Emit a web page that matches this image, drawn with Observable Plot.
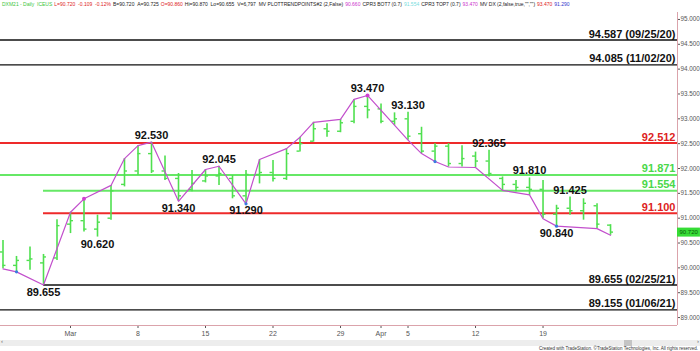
<!DOCTYPE html>
<html><head><meta charset="utf-8">
<script src="https://cdn.jsdelivr.net/npm/d3@7"></script>
<script src="https://cdn.jsdelivr.net/npm/@observablehq/plot@0.6"></script>
<style>
body{margin:0;background:#fff;}
#wrap{position:relative;width:700px;height:351px;overflow:hidden;font-family:Arial,"Liberation Sans",sans-serif;background:#fff;}
#hdr{position:absolute;left:2px;top:1px;font-size:5px;white-space:nowrap;line-height:7px;color:#222;}
#hdr span{margin-right:2px;}
#chart{position:absolute;left:0;top:12px;}
#scroll{position:absolute;left:0;top:340px;width:700px;height:6px;background:#ededed;}
#thumb{position:absolute;left:624px;top:0;width:8px;height:6px;background:#c4c4c4;}
#la{position:absolute;left:1px;top:-2px;font-size:6px;color:#666;}
#ra{position:absolute;right:1px;top:-2px;font-size:6px;color:#666;}
#cap{position:absolute;right:2px;top:346px;font-size:4.5px;color:#333;white-space:nowrap;}
#chart g[aria-label^="y-axis"] text{font-size:6.3px;}
</style></head>
<body>
<div id="wrap">
  <div id="hdr"></div>
  <div id="chart"></div>
  <div id="scroll"><div id="thumb"></div><span id="la">&lsaquo;</span><span id="ra">&rsaquo;</span></div>
  <div id="cap">Created with TradeStation. ©TradeStation Technologies, Inc. All rights reserved.</div>
</div>
<script>
// ---- data ----
const dates = ["2021-02-22","2021-02-23","2021-02-24","2021-02-25","2021-02-26",
  "2021-03-01","2021-03-02","2021-03-03","2021-03-04","2021-03-05",
  "2021-03-08","2021-03-09","2021-03-10","2021-03-11","2021-03-12",
  "2021-03-15","2021-03-16","2021-03-17","2021-03-18","2021-03-19",
  "2021-03-22","2021-03-23","2021-03-24","2021-03-25","2021-03-26",
  "2021-03-29","2021-03-30","2021-03-31","2021-04-01","2021-04-02",
  "2021-04-05","2021-04-06","2021-04-07","2021-04-08","2021-04-09",
  "2021-04-12","2021-04-13","2021-04-14","2021-04-15","2021-04-16",
  "2021-04-19","2021-04-20","2021-04-21","2021-04-22","2021-04-23",
  "2021-04-26"];
const opens  = [90.32,90.05,90.15,90.10,90.20, 90.88,90.95,90.78,91.00,91.68, 91.95,92.30,91.95,91.80,91.58,
  91.75,91.85,91.80,91.45,91.88, 91.92,91.80,92.35,92.55,92.80, 92.75,92.95,93.25,93.20,92.95,
  93.00,92.70,92.35,92.45,92.10, 92.25,92.15,91.80,91.68,91.62, 91.58,91.08,91.20,91.15,91.25, 90.86];
const highs  = [90.55,90.23,90.42,90.27,90.97, 91.12,91.39,91.06,91.66,92.20, 92.46,92.53,92.25,91.90,91.96,
  91.98,92.045,91.86,91.96,92.18, 92.16,92.40,92.63,92.93,92.90, 92.99,93.39,93.47,93.30,93.12,
  93.13,92.83,92.50,92.50,92.46, 92.33,92.365,91.83,91.76,91.81, 91.76,91.26,91.425,91.39,91.29, 90.87];
const lows   = [89.98,89.92,89.95,89.655,90.15, 90.69,90.72,90.62,90.96,91.63, 91.86,91.90,91.76,91.34,91.53,
  91.71,91.66,91.39,91.29,91.69, 91.73,91.76,92.33,92.53,92.63, 92.72,92.90,93.00,92.90,92.87,
  92.57,92.30,92.14,92.03,92.03, 92.02,91.83,91.56,91.53,91.46, 90.99,90.84,91.06,90.96,90.79, 90.655];
const closes = [90.05,90.15,90.18,90.22,90.85, 90.95,90.78,90.92,91.55,91.95, 92.30,91.95,91.80,91.45,91.70,
  91.85,91.90,91.45,91.88,91.92, 91.80,92.30,92.50,92.80,92.75, 92.92,93.25,93.18,92.95,93.00,
  92.65,92.35,92.45,92.10,92.20, 92.15,91.90,91.68,91.62,91.58, 91.08,91.20,91.15,91.30,90.88, 90.72];

// swing / trend line (bar index, price)
const trendIdx = [0,1,3,5,6,8,9,10,11,13,15,16,18,19,21,22,23,25,26,27,30,31,32,33,35,37,39,40,41,44,45];
const trendVal = [89.98,89.92,89.655,91.12,91.39,91.66,92.20,92.46,92.53,91.34,91.98,92.045,91.29,92.18,92.40,92.63,92.93,92.99,93.39,93.47,
  92.57,92.30,92.14,92.03,92.02,91.56,91.47,90.99,90.84,90.79,90.655];
const magentaDotIdx = [6,27];
const blueDotIdx = [1,18,32,41];

// swing labels
const swingHighIdx = [11,16,27,30,36,39,42];
const swingHighVal = [92.530,92.045,93.470,93.130,92.365,91.810,91.425];
const swingLowIdx  = [3,7,13,18,41];
const swingLowVal  = [89.655,90.620,91.340,91.290,90.840];

// horizontal levels
const levelVals   = [94.587,94.085,92.512,91.871,91.554,91.100,89.655,89.155];
const levelLabels = ["94.587 (09/25/20)","94.085 (11/02/20)","92.512","91.871","91.554","91.100","89.655 (02/25/21)","89.155 (01/06/21)"];
const levelKinds  = ["black","black","red","green","green","red","black","black"];
const levelStartIdx = [null,null,null,null,3,3,3,null];

// axes
const xTickIdx = [5,10,15,20,25,28,30,35,40];
const xTickLabels = ["Mar","8","15","22","29","Apr","5","12","19"];
const yTicks = [89,89.5,90,90.5,91,91.5,92,92.5,93,93.5,94,94.5,95];

// ---- styles ----
const xDomain = [-0.185, 49.96];
const yDomain = [88.84, 95.14];
const barGreen = "#4fe04f";
const lineColor = {black:"#111", red:"#ee2a2a", green:"#66e866"};
const labelColor = {black:"#111", red:"#dd2222", green:"#4ad84a"};
const pink = "#dba3ab";

const bars = dates.map((d,i)=>({i, d, o:opens[i], h:highs[i], l:lows[i], c:closes[i]}));
const trend = trendIdx.map((i,k)=>({i, v:trendVal[k]}));
const levels = levelVals.map((v,k)=>({v, label:levelLabels[k], kind:levelKinds[k], start: levelStartIdx[k]==null ? xDomain[0] : levelStartIdx[k]}));
const highsLbl = swingHighIdx.map((i,k)=>({i, v:swingHighVal[k]}));
const lowsLbl = swingLowIdx.map((i,k)=>({i, v:swingLowVal[k]}));
const last = bars[bars.length-1];

// header
const hdrParts = [
 ["DXM21 - Daily  ICEUS","#3cc63c"],["L=90.720  -0.109  -0.12%","#d22"],["B=90.720  A=90.725","#222"],["O=90.860","#d22"],
 ["Hi=90.870  Lo=90.655  V=6,797  MV PLOTTRENDPOINTS#2 (2,False)","#222"],["90.660","#c3c"],
 ["CPR3 BOT7 (0.7)","#222"],["91.554","#7dd"],["CPR3 TOP7 (0.7)","#222"],["93.470","#c3c"],
 ["MV DX (2,false,true,\"\",\"\")","#222"],["93.470","#d22"],["91.290","#33c"]];
document.getElementById("hdr").innerHTML = hdrParts.map(([t,c])=>`<span style="color:${c}">${t.replace(/ /g,"&nbsp;")}</span>`).join("");

const chart = Plot.plot({
  width: 700, height: 339,
  marginLeft: 0, marginRight: 23, marginTop: 0, marginBottom: 26,
  style: {fontFamily: "Arial, 'Liberation Sans', sans-serif", fontSize: "7px", color: "#555", background: "#fff"},
  x: {domain: xDomain, ticks: xTickIdx, tickFormat: i => xTickLabels[xTickIdx.indexOf(i)], tickSize: 3, tickPadding: 3, label: null},
  y: {domain: yDomain, axis: "right", ticks: yTicks, tickFormat: d3.format(".3f"), tickSize: 2, tickPadding: 1, label: null},
  marks: [
    // frame lines
    Plot.ruleX([xDomain[1]], {stroke: pink, strokeWidth: 1}),
    Plot.ruleY([yDomain[0]], {stroke: pink, strokeWidth: 1}),
    // levels
    Plot.ruleY(levels, {y: "v", x1: "start", x2: xDomain[1], stroke: d => lineColor[d.kind], strokeWidth: d => d.kind === "black" ? 1.4 : 2}),
    Plot.text(levels, {x: xDomain[1], y: "v", text: "label", textAnchor: "end", dx: -2, dy: -6, lineAnchor: "middle",
      fill: d => labelColor[d.kind], fontWeight: "bold", fontSize: 11}),
    // OHLC bars
    Plot.ruleX(bars, {x: "i", y1: "l", y2: "h", stroke: barGreen, strokeWidth: 1.6}),
    Plot.ruleY(bars, {y: "o", x1: d => d.i - 0.22, x2: "i", stroke: barGreen, strokeWidth: 1.4}),
    Plot.ruleY(bars, {y: "c", x1: "i", x2: d => d.i + 0.22, stroke: barGreen, strokeWidth: 1.4}),
    // trend line
    Plot.line(trend, {x: "i", y: "v", stroke: "#c24fcc", strokeWidth: 1.2}),
    Plot.dot(trend.filter(d => magentaDotIdx.includes(d.i)), {x: "i", y: "v", r: 2, fill: "#d040d0"}),
    Plot.dot(trend.filter(d => blueDotIdx.includes(d.i)), {x: "i", y: "v", r: 1.6, fill: "#3b7be0"}),
    // swing labels
    Plot.text(highsLbl, {x: "i", y: "v", text: d => d.v.toFixed(3), dy: -7, lineAnchor: "middle", fontWeight: "bold", fontSize: 11, fill: "#111"}),
    Plot.text(lowsLbl, {x: "i", y: "v", text: d => d.v.toFixed(3), dy: 7, lineAnchor: "middle", fontWeight: "bold", fontSize: 11, fill: "#111"}),
    // last price box
    Plot.ruleY([last], {y: "c", x1: xDomain[1], x2: xDomain[1] + 1.7, stroke: "#36dc36", strokeWidth: 9}),
    Plot.text([last], {x: xDomain[1], y: "c", text: d => d.c.toFixed(3), textAnchor: "start", dx: 2, fill: "#0a5a0a", fontSize: 6})
  ]
});
document.getElementById("chart").appendChild(chart);
</script>
</body></html>
